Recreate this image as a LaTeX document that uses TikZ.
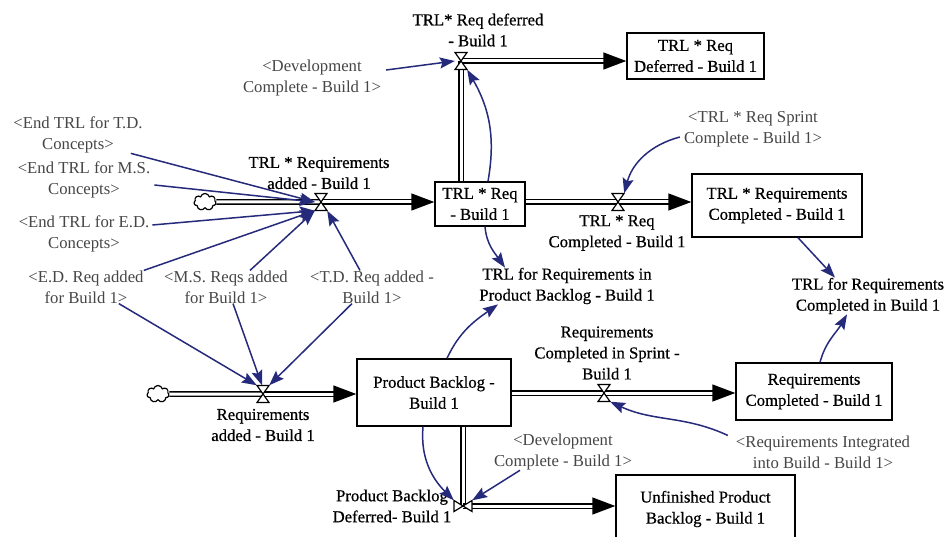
\documentclass[tikz,border=0pt]{standalone}
\usepackage{fontspec}
\setmainfont{Liberation Serif}
\newfontfamily\heavyserif[FakeBold=0.6]{Liberation Serif}
\usetikzlibrary{arrows.meta,shapes.symbols}
\definecolor{infoblue}{RGB}{38,42,122}
\definecolor{shadowgray}{RGB}{70,70,70}
\begin{document}
\begin{tikzpicture}[x=1pt,y=-1pt,
  font=\fontsize{16.7}{21}\selectfont,
  lbl/.style={align=center,inner sep=0pt,font=\fontsize{16.7}{21}\heavyserif},
  shd/.style={align=center,inner sep=0pt,text=shadowgray},
  stock/.style={draw,line width=1.4pt,align=center,inner sep=0pt,font=\fontsize{16.7}{21}\heavyserif},
  pipe/.style={draw,double,double distance=3pt,line width=1.4pt},
  pipeend/.style={pipe,-{Triangle[length=23pt,width=17pt]}},
  info/.style={draw=infoblue,line width=1.5pt,-{Stealth[length=15pt,width=11pt,inset=2.5pt]}},
  valveh/.style={inner sep=0pt,minimum width=12pt,minimum height=17pt},
  valvev/.style={inner sep=0pt,minimum width=18pt,minimum height=11pt},
  hourglass/.pic={\draw[fill=white,line width=1.2pt] (-6,-8.5) -- (6,-8.5) -- (-6,8.5) -- (6,8.5) -- cycle;},
  bowtie/.pic={\draw[fill=white,line width=1.2pt] (-9,-5.5) -- (-9,5.5) -- (9,-5.5) -- (9,5.5) -- cycle;},
  puff/.style={cloud,cloud puffs=7,draw,line width=1.2pt,minimum width=22pt,minimum height=17pt,inner sep=0pt,fill=white}
]
\clip (0,0) rectangle (944,537);
\fill[white] (0,0) rectangle (944,537);

% stocks
\node[stock,minimum width=137pt,minimum height=46pt] (defbox) at (695.5,56) {TRL * Req\\Deferred - Build 1};
\node[stock,minimum width=90pt,minimum height=44pt] (trlreq) at (480,204) {TRL * Req\\- Build 1};
\node[stock,minimum width=170pt,minimum height=63pt] (trlcompbox) at (777,205.5) {TRL * Requirements\\Completed - Build 1};
\node[stock,minimum width=154pt,minimum height=67pt] (pb) at (434,392.5) {Product Backlog -\\Build 1};
\node[stock,minimum width=156pt,minimum height=57pt] (reqcompbox) at (814,391.5) {Requirements\\Completed - Build 1};
\node[stock,minimum width=179pt,minimum height=68pt] (unfbox) at (705.5,509) {Unfinished Product\\Backlog - Build 1};

% valves and clouds
\node[valveh] (vdef) at (461,61) {};
\node[valveh] (vadd) at (321,202) {};
\node[valveh] (vtrlc) at (618,202) {};
\node[valveh] (vreq) at (263,394) {};
\node[valveh] (vspr) at (604,393) {};
\node[valvev] (vpbd) at (463,506) {};
\node[puff] (c1) at (205,202) {};
\node[puff] (c2) at (158,394) {};

% pipes
\draw[pipe] (c1.east) -- (vadd.center);
\draw[pipeend] (vadd.center) -- (trlreq.west |- vadd);
\draw[pipe] (trlreq.north -| vdef) -- (vdef.center);
\draw[pipeend] (vdef.center) -- (defbox.west |- vdef);
\draw[pipe] (trlreq.east |- vtrlc) -- (vtrlc.center);
\draw[pipeend] (vtrlc.center) -- (trlcompbox.west |- vtrlc);
\draw[pipe] (c2.east) -- (vreq.center);
\draw[pipeend] (vreq.center) -- (pb.west |- vreq);
\draw[pipe] (pb.east |- vspr) -- (vspr.center);
\draw[pipeend] (vspr.center) -- (reqcompbox.west |- vspr);
\draw[pipe] (pb.south -| vpbd) -- (vpbd.center);
\draw[pipeend] (vpbd.center) -- (unfbox.west |- vpbd);

\pic at (vdef) {hourglass};
\pic at (vadd) {hourglass};
\pic at (vtrlc) {hourglass};
\pic at (vreq) {hourglass};
\pic at (vspr) {hourglass};
\pic at (vpbd) {bowtie};

% labels
\node[lbl] (deflbl) at (478,30) {TRL* Req deferred\\- Build 1};
\node[shd] (devtop) at (312,78) {<Development\\Complete - Build 1>};
\node[shd] (endTD) at (78,135) {<End TRL for T.D.\\Concepts>};
\node[shd] (endMS) at (84,180) {<End TRL for M.S.\\Concepts>};
\node[shd] (endED) at (84,234) {<End TRL for E.D.\\Concepts>};
\node[shd] (edreq) at (86,287) {<E.D. Req added\\for Build 1>};
\node[shd] (msreq) at (226,287) {<M.S. Reqs added\\for Build 1>};
\node[shd] (tdreq) at (372,287) {<T.D. Req added -\\Build 1>};
\node[lbl] (addlbl) at (319,173) {TRL * Requirements\\added - Build 1};
\node[lbl] (trlclbl) at (617,233) {TRL * Req\\Completed - Build 1};
\node[shd] (sprintc) at (753,129) {<TRL * Req Sprint\\Complete - Build 1>};
\node[lbl] (trlpb) at (567,286) {TRL for Requirements in\\Product Backlog - Build 1};
\node[lbl] (trlcomp) at (868,296) {TRL for Requirements\\Completed in Build 1};
\node[lbl] (sprlbl) at (607,353) {Requirements\\Completed in Sprint -\\Build 1};
\node[lbl] (reqaddlbl) at (263,425) {Requirements\\added - Build 1};
\node[shd] (devbot) at (563,452) {<Development\\Complete - Build 1>};
\node[shd] (reqint) at (823,452) {<Requirements Integrated\\into Build - Build 1>};
\node[lbl] (pbdlbl) at (392,506) {Product Backlog\\Deferred- Build 1};

% information links
\draw[info] ([xshift=5pt,yshift=8pt]devtop.east) -- (vdef.west);
\draw[info] ([xshift=8pt]trlreq.north) to[out=80,in=-60] (vdef.south east);
\draw[info] ([xshift=-12pt]endTD.south east) -- (vadd.west);
\draw[info] ([xshift=4pt,yshift=-5pt]endMS.east) -- (vadd.west);
\draw[info] ([xshift=3pt,yshift=9pt]endED.east) -- (vadd.south west);
\draw[info] (edreq.north east) -- (vadd.south west);
\draw[info] ([xshift=24pt]msreq.north) -- (vadd.south west);
\draw[info] ([xshift=-12pt]tdreq.north) -- (vadd.south east);
\draw[info] ([xshift=-25pt]edreq.south east) -- (vreq.north west);
\draw[info] ([xshift=7pt]msreq.south) -- ([xshift=-1pt]vreq.north);
\draw[info] ([xshift=-20pt]tdreq.south) -- (vreq.north east);
\draw[info] ([xshift=5pt]trlreq.south) to[out=-85,in=125] ([xshift=-62pt]trlpb.north);
\draw[info] ([xshift=13pt]pb.north) to[out=65,in=-145] ([xshift=-69pt]trlpb.south);
\draw[info] ([xshift=-4pt,yshift=-8pt]sprintc.west) to[out=195,in=75] (vtrlc.north east);
\draw[info] ([xshift=21pt]trlcompbox.south) -- ([xshift=-33pt]trlcomp.north);
\draw[info] ([xshift=6pt]reqcompbox.north) to[out=75,in=-120] ([xshift=-21pt]trlcomp.south);
\draw[info] ([xshift=-8pt]reqint.north west) to[out=155,in=-25] (vspr.south east);
\draw[info] ([xshift=-43pt]devbot.south) -- (vpbd.north east);
\draw[info] ([xshift=-11pt]pb.south) to[out=-95,in=135] (vpbd.north west);
\end{tikzpicture}
\end{document}
